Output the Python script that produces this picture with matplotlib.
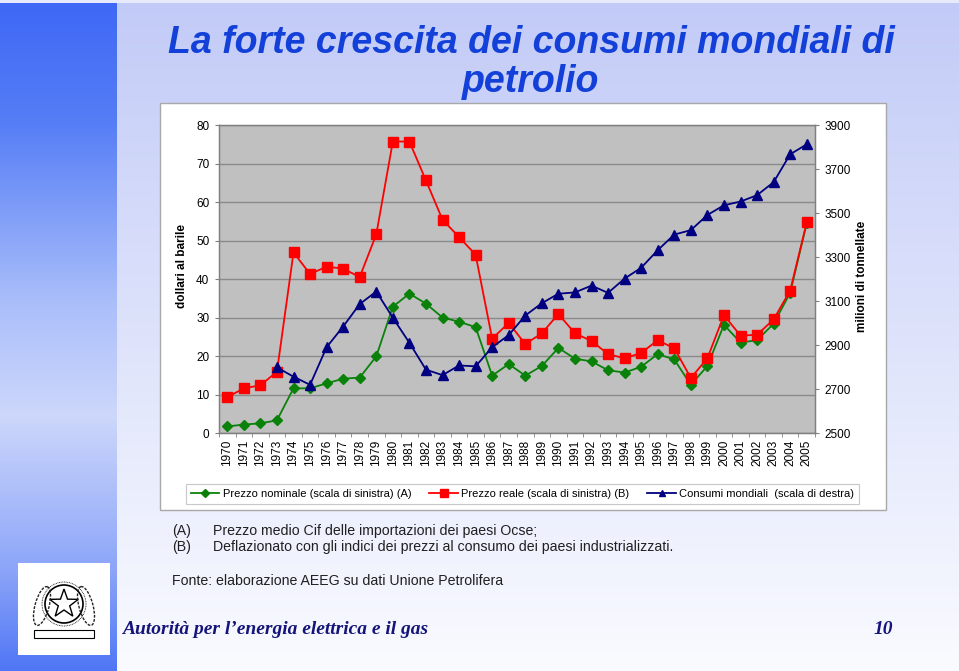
import numpy as np
import matplotlib
matplotlib.use('Agg')
import matplotlib.pyplot as plt
from matplotlib.patches import Rectangle, Circle, Polygon, Ellipse
from matplotlib.lines import Line2D

plt.rcParams['font.family'] = ['Liberation Sans', 'DejaVu Sans']

# ---------------- data ----------------
years = ['1970', '1971', '1972', '1973', '1974', '1975', '1976', '1977', '1978',
         '1979', '1980', '1981', '1982', '1983', '1984', '1985', '1986', '1987',
         '1988', '1989', '1990', '1991', '1992', '1993', '1994', '1995', '1996',
         '1997', '1998', '1999', '2000', '2001', '2002', '2003', '2004', '2005']

prezzo_nominale = [1.7, 2.2, 2.5, 3.3, 11.6, 11.6, 12.9, 14.1, 14.4,
                   19.9, 32.8, 36.2, 33.6, 30.0, 28.9, 27.5, 14.9, 17.9,
                   14.9, 17.4, 22.1, 19.3, 18.6, 16.3, 15.7, 17.2, 20.5,
                   19.1, 12.5, 17.4, 28.1, 23.5, 24.1, 28.4, 36.4, 54.5]

prezzo_reale = [9.3, 11.6, 12.4, 15.9, 46.9, 41.3, 43.2, 42.7, 40.5,
                51.6, 75.7, 75.7, 65.6, 55.4, 50.9, 46.3, 24.5, 28.6,
                23.1, 25.9, 30.9, 25.9, 23.9, 20.5, 19.4, 20.8, 24.1,
                22.0, 14.3, 19.4, 30.6, 25.3, 25.5, 29.5, 37.0, 54.7]

consumi_mondiali = [np.nan, np.nan, np.nan, 2798, 2756, 2719, 2890, 2984, 3086,
                    3143, 3024, 2910, 2788, 2763, 2807, 2803, 2890, 2945,
                    3034, 3090, 3133, 3139, 3170, 3137, 3202, 3251, 3331,
                    3402, 3422, 3491, 3535, 3552, 3581, 3640, 3767, 3812]

left_ticks = [0, 10, 20, 30, 40, 50, 60, 70, 80]
right_ticks = [2500, 2700, 2900, 3100, 3300, 3500, 3700, 3900]

labels = ['Prezzo nominale (scala di sinistra) (A)',
          'Prezzo reale (scala di sinistra) (B)',
          'Consumi mondiali  (scala di destra)']

# ---------------- figure ----------------
W, H = 959, 671
fig = plt.figure(figsize=(W / 100, H / 100), dpi=100)

bg = fig.add_axes([0, 0, 1, 1])
bg.set_xlim(0, W)
bg.set_ylim(H, 0)
bg.axis('off')

# main background gradient (light periwinkle -> white)
t = np.linspace(0, 1, 200)[:, None]
top = np.array([194, 203, 247]) / 255
bot = np.array([250, 251, 255]) / 255
grad = top + (bot - top) * t
bg.imshow(grad.reshape(200, 1, 3), extent=(0, W, H, 0), aspect='auto', zorder=0)

# left blue bar gradient
stops = [(0.0, (62, 104, 245)), (0.18, (85, 125, 246)), (0.45, (170, 190, 250)),
         (0.62, (205, 215, 251)), (0.85, (140, 165, 248)), (1.0, (80, 118, 245))]
pos = np.array([s[0] for s in stops])
cols = np.array([s[1] for s in stops]) / 255
tt = np.linspace(0, 1, 300)
bar = np.stack([np.interp(tt, pos, cols[:, k]) for k in range(3)], axis=1)
bg.imshow(bar[:, None, :], extent=(0, 117, H, 0), aspect='auto', zorder=1)
bg.add_patch(Rectangle((0, 0), W, 3, fc='#e6eafc', ec='none', zorder=2))

# chart white box
bg.add_patch(Rectangle((160, 103), 726, 407, fc='white', ec='#a8a8a8', lw=1, zorder=3))

# title
bg.text(531, 53, 'La forte crescita dei consumi mondiali di', ha='center', va='baseline',
        fontsize=27, fontweight='bold', fontstyle='italic', color='#1240d8', zorder=5)
bg.text(531, 92, 'petrolio', ha='center', va='baseline',
        fontsize=27, fontweight='bold', fontstyle='italic', color='#1240d8', zorder=5)

# axis titles
bg.text(182, 266, 'dollari al barile', rotation=90, ha='center', va='center',
        fontsize=8.5, fontweight='bold', color='black', zorder=5)
bg.text(862, 276, 'milioni di tonnellate', rotation=90, ha='center', va='center',
        fontsize=8.5, fontweight='bold', color='black', zorder=5)

# footnotes
fc = '#202020'
fs = 10.2
bg.text(172, 531, '(A)', va='center', fontsize=fs, color=fc, zorder=5)
bg.text(213, 531, 'Prezzo medio Cif delle importazioni dei paesi Ocse;', va='center',
        fontsize=fs, color=fc, zorder=5)
bg.text(172, 547, '(B)', va='center', fontsize=fs, color=fc, zorder=5)
bg.text(213, 547, 'Deflazionato con gli indici dei prezzi al consumo dei paesi industrializzati.',
        va='center', fontsize=fs, color=fc, zorder=5)
bg.text(172, 581, 'Fonte: elaborazione AEEG su dati Unione Petrolifera', va='center',
        fontsize=fs, color=fc, zorder=5)

# footer
bg.text(122, 630, 'Autorità per l\u2019energia elettrica e il gas', va='center', ha='left',
        family='Liberation Serif', fontstyle='italic', fontweight='bold', fontsize=14,
        color='#14147a', zorder=5)
bg.text(893, 630, '10', va='center', ha='right',
        family='Liberation Serif', fontstyle='italic', fontweight='bold', fontsize=14,
        color='#14147a', zorder=5)

# emblem (simplified)
bg.add_patch(Rectangle((18, 563), 92, 92, fc='white', ec='none', zorder=4))
cx, cy = 64, 604
ang = np.deg2rad(np.arange(10) * 36 - 90)
rad = np.where(np.arange(10) % 2 == 0, 15, 6)
star = np.column_stack([cx + rad * np.cos(ang), cy + rad * np.sin(ang)])
bg.add_patch(Polygon(star, closed=True, fc='white', ec='black', lw=1.0, zorder=6))
bg.add_patch(Circle((cx, cy), 19, fc='none', ec='black', lw=1.2, zorder=6))
bg.add_patch(Circle((cx, cy), 22, fc='none', ec='black', lw=0.6, ls=(0, (1, 1)), zorder=6))
bg.add_patch(Ellipse((cx - 22, cy + 2), 14, 40, angle=15, fc='none', ec='#222222', lw=1.0,
                     ls=(0, (2, 1)), zorder=6))
bg.add_patch(Ellipse((cx + 22, cy + 2), 14, 40, angle=-15, fc='none', ec='#222222', lw=1.0,
                     ls=(0, (2, 1)), zorder=6))
bg.add_patch(Rectangle((cx - 30, cy + 26), 60, 8, fc='white', ec='black', lw=0.8, zorder=6))

# ---------------- chart ----------------
ax = fig.add_axes([219 / W, 1 - 433 / H, 596 / W, 308 / H])
ax.set_facecolor('#c0c0c0')
x = np.arange(len(years))
ax.set_xlim(-0.5, len(years) - 0.5)
ax.set_ylim(0, 80)
ax.set_yticks(left_ticks)
ax.yaxis.grid(True, color='#8a8a8a', lw=1.0)
ax.set_axisbelow(True)
for s in ax.spines.values():
    s.set_color('#808080')
    s.set_linewidth(1.0)

ax.plot(x, prezzo_nominale, color='#0a820a', lw=1.3, marker='D', ms=5,
        mfc='#0a820a', mec='#0a820a', zorder=3)
ax.plot(x, prezzo_reale, color='#ff0000', lw=1.3, marker='s', ms=7,
        mfc='#ff0000', mec='#ff0000', zorder=4)

ax.set_xticks(x)
ax.set_xticklabels(years, rotation=90, fontsize=8.5)
ax.set_xticks(np.arange(len(years) + 1) - 0.5, minor=True)
ax.tick_params(axis='x', which='major', length=0, pad=5)
ax.tick_params(axis='x', which='minor', length=3, color='#808080', direction='out')
ax.tick_params(axis='y', length=3, color='#808080', direction='out', labelsize=8.5, pad=4)

ax2 = ax.twinx()
ax2.set_ylim(2500, 3900)
ax2.set_yticks(right_ticks)
ax2.tick_params(axis='y', length=3, color='#808080', direction='out', labelsize=8.5, pad=4)
for s in ax2.spines.values():
    s.set_color('#808080')
ax2.plot(x, consumi_mondiali, color='#000080', lw=1.3, marker='^', ms=7,
         mfc='#000080', mec='#000080', zorder=5)

# legend
handles = [Line2D([], [], color='#0a820a', lw=1.3, marker='D', ms=4),
           Line2D([], [], color='#ff0000', lw=1.3, marker='s', ms=6),
           Line2D([], [], color='#000080', lw=1.3, marker='^', ms=5)]
leg = fig.legend(handles, labels, loc='center', bbox_to_anchor=(522.5 / W, 1 - 494 / H),
                 ncol=3, fontsize=8, handlelength=2.6, handletextpad=0.3, columnspacing=1.6,
                 borderpad=0.45, fancybox=False, framealpha=1, edgecolor='#c8c8c8')
leg.get_frame().set_linewidth(0.8)

fig.savefig('out.png', dpi=100)
